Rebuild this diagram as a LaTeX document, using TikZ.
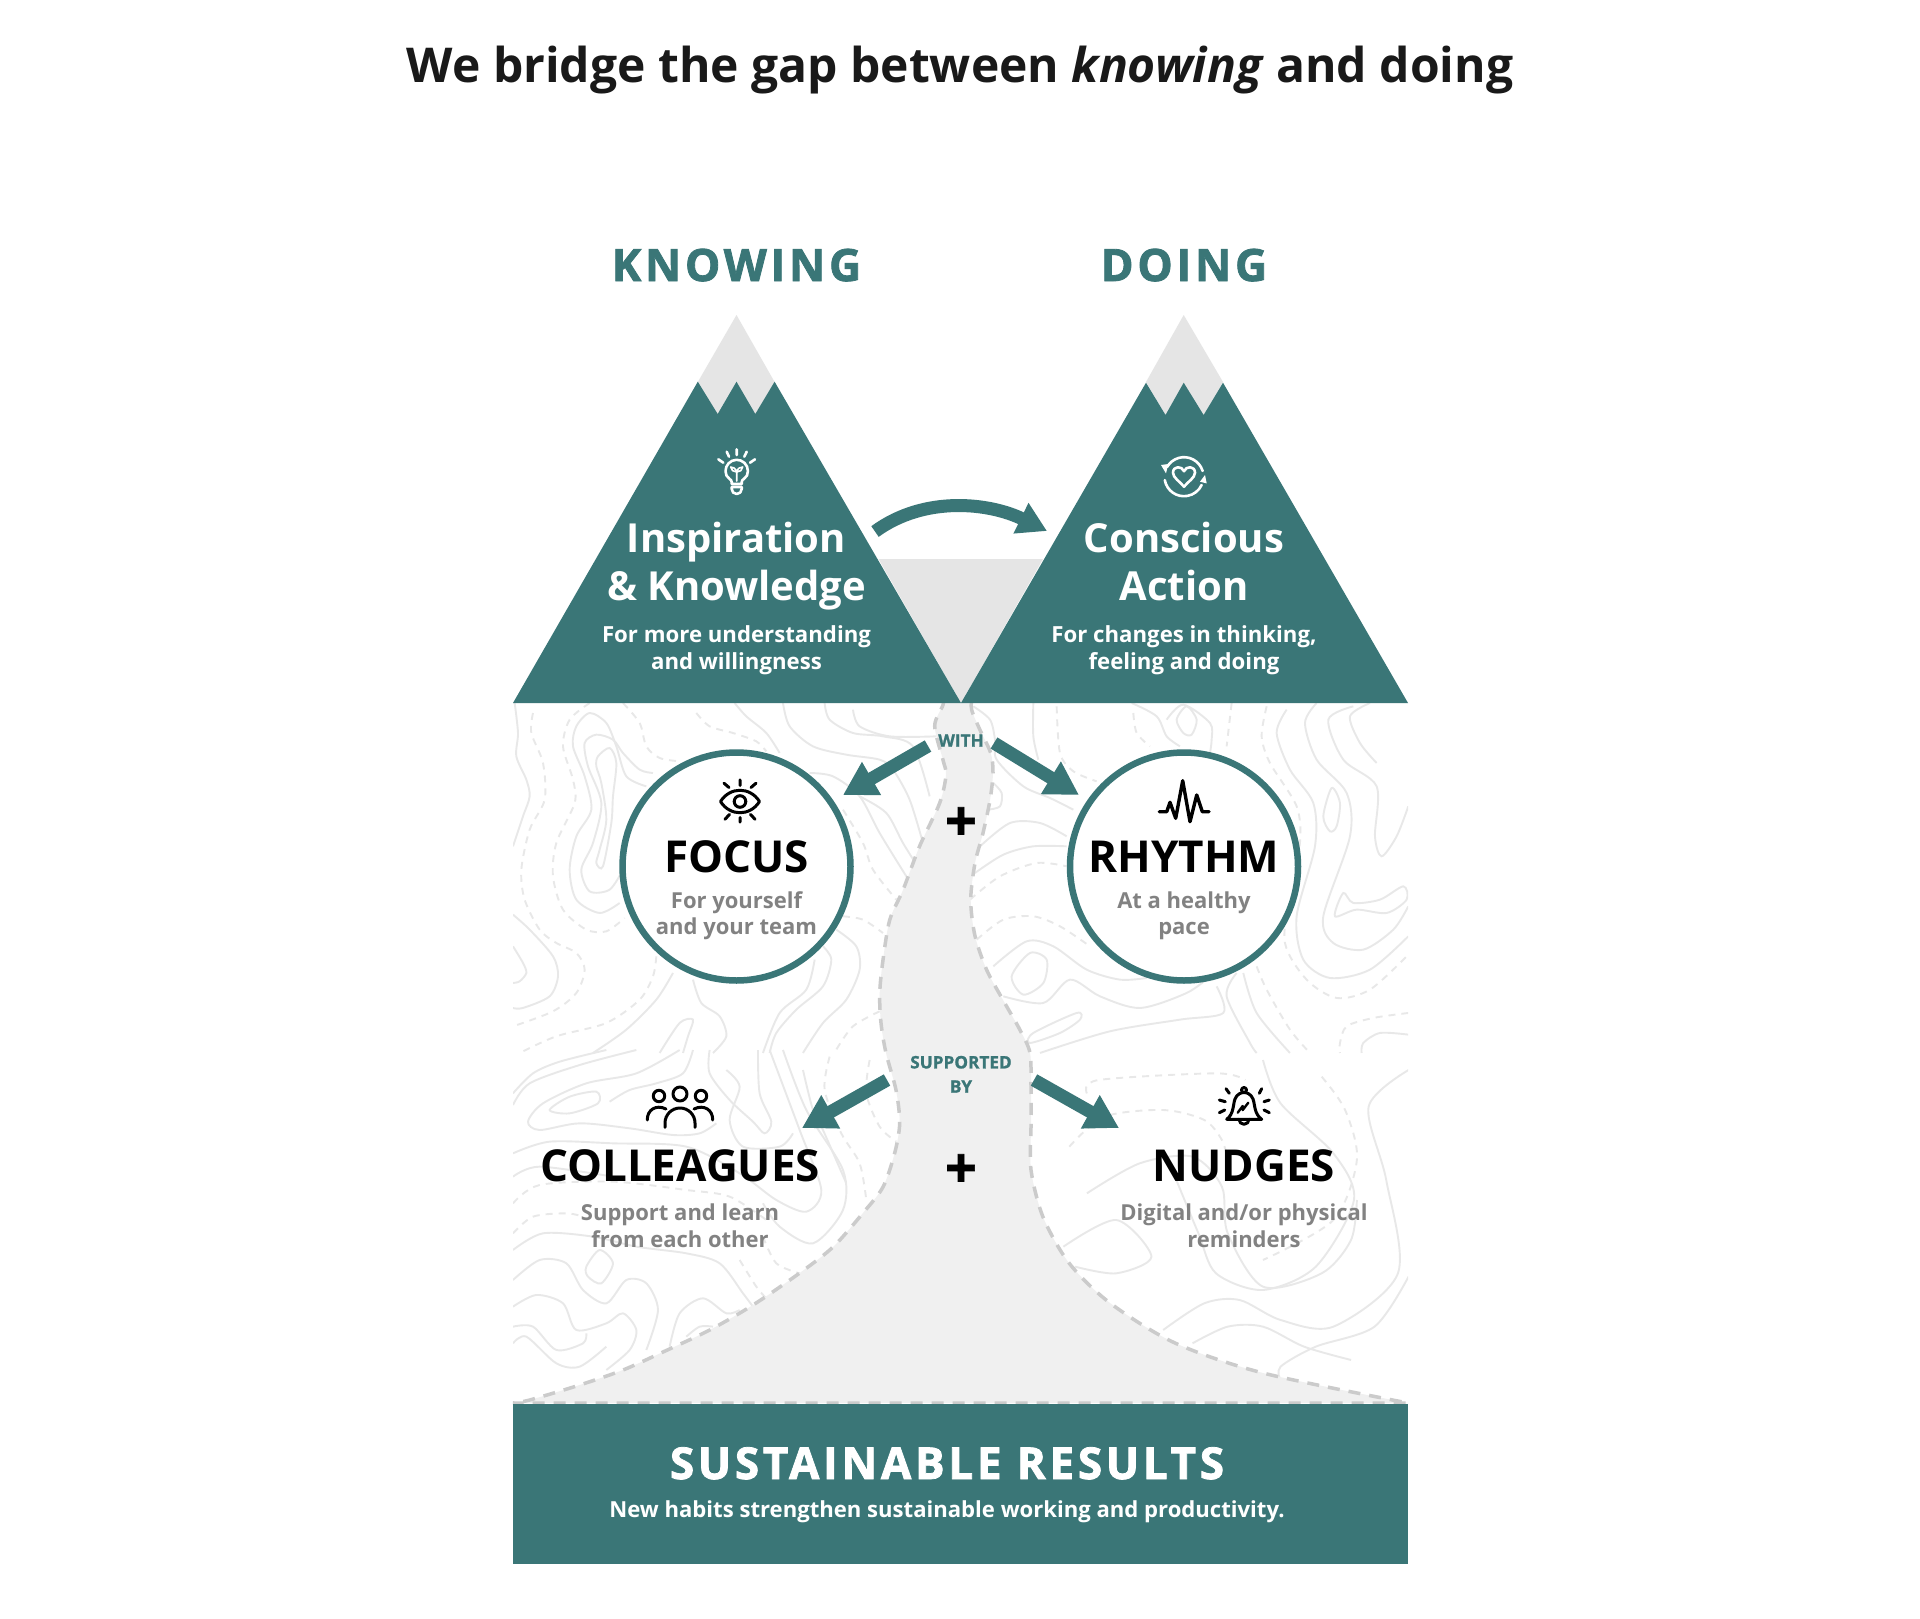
\documentclass[tikz,border=0pt]{standalone}
\usepackage{fontspec}
\setmainfont{Open Sans}
\newfontfamily\heavyfont[BoldFeatures={FakeBold=1.2}]{Open Sans}
\newfontfamily\spacedfont[LetterSpace=8.5,BoldFeatures={FakeBold=1.8}]{Open Sans}
\usetikzlibrary{arrows.meta}
\definecolor{pine}{HTML}{3A7677}
\definecolor{snow}{HTML}{E5E5E5}
\definecolor{trail}{HTML}{F0F0F0}
\definecolor{trailedge}{HTML}{CBCBCB}
\definecolor{isoline}{HTML}{E8E8E8}
\definecolor{subgrey}{HTML}{828282}
\begin{document}
\begin{tikzpicture}[x=1pt,y=-1pt,
  bigarrow/.style={-{Triangle[length=33pt,width=36pt]},line width=13pt,draw=pine},
  archarrow/.style={-{Triangle[length=29pt,width=32pt]},line width=13pt,draw=pine},
  mountain/.style={fill=pine},
  circlebox/.style={circle,draw=pine,fill=white,line width=6.5pt,minimum size=228pt,inner sep=0pt},
  contour/.style={draw=isoline,line width=1.9pt},
  dashcontour/.style={contour,dash pattern=on 7pt off 6pt},
  headline/.style={anchor=base,inner sep=0pt,text=black,font=\bfseries\fontsize{44}{50}\selectfont},
  peaktitle/.style={anchor=base,inner sep=0pt,align=center,text=white,font=\bfseries\fontsize{40}{48}\selectfont},
  peaksub/.style={anchor=base,inner sep=0pt,align=center,text=white,font=\bfseries\fontsize{22.2}{26.5}\selectfont},
  greysub/.style={anchor=base,inner sep=0pt,align=center,text=subgrey,font=\bfseries\fontsize{22}{26.5}\selectfont},
  tinylabel/.style={anchor=base,inner sep=0pt,align=center,text=pine,font=\heavyfont\bfseries\fontsize{17.2}{24.3}\selectfont},
  pluslabel/.style={anchor=center,inner sep=0pt,text=black,font=\heavyfont\bfseries\fontsize{56}{60}\selectfont},
  whiteicon/.style={draw=white,line width=2.6pt,line cap=round,line join=round},
  blackicon/.style={draw=black,line width=3pt,line cap=round,line join=round}]

\useasboundingbox (0,0) rectangle (1920,1619);
\fill [white] (0,0) rectangle (1920,1619);

\begin{scope}
\clip (513,703) rectangle (1408,1403);
\begin{scope}[shift={(513,703)},x=0.3333pt,y=-0.3333pt]
\draw [contour] plot[smooth] coordinates {(5,0) (15,90) (10,160) (40,230) (50,280) (30,340) (0,430)};
\draw [contour] plot[smooth] coordinates {(400,250) (340,220) (310,130) (280,60) (230,30) (190,70) (180,130) (215,220) (235,320) (190,400) (170,500) (190,590) (260,630) (320,600)};
\draw [contour] plot[smooth] coordinates {(420,210) (380,200) (330,150) (300,110) (250,95) (215,120) (225,190) (265,300) (240,420) (205,500) (230,565) (290,560) (330,500)};
\draw [contour] plot[smooth cycle] coordinates {(255,160) (290,135) (310,180) (300,280) (295,360) (270,490) (250,480) (260,440) (280,350) (265,240) (250,190)};
\draw [contour] plot[smooth] coordinates {(0,730) (30,780) (40,810) (20,835) (0,840)};
\draw [contour] plot[smooth] coordinates {(0,635) (50,680) (120,760) (135,820) (110,880) (30,915) (0,915)};
\draw [dashcontour] plot[smooth] coordinates {(60,30) (55,90) (90,180) (95,290) (50,380) (25,500) (35,590) (80,680) (130,720) (190,750) (215,800) (190,870) (120,925) (0,970)};
\draw [dashcontour] plot[smooth] coordinates {(230,0) (170,50) (150,130) (180,230) (185,300) (130,420) (120,520) (150,620) (220,680) (280,685) (335,645)};
\draw [dashcontour] plot[smooth] coordinates {(330,0) (380,60) (400,130) (440,165) (500,175)};
\draw [dashcontour] plot[smooth] coordinates {(550,30) (590,70) (660,90) (730,115) (760,145)};
\draw [contour] plot[smooth] coordinates {(665,0) (700,40) (760,90) (800,150)};
\draw [contour] plot[smooth] coordinates {(810,0) (830,70) (900,130) (1000,155) (1100,170) (1140,200) (1190,290) (1230,420)};
\draw [contour] plot[smooth] coordinates {(935,0) (950,50) (1020,90) (1110,100) (1200,130) (1250,280)};
\draw [contour] plot[smooth] coordinates {(1020,20) (1040,70) (1130,100) (1270,100)};
\draw [contour] plot[smooth] coordinates {(890,210) (960,220) (1040,280) (1100,390) (1180,520)};
\draw [contour] plot[smooth] coordinates {(1040,280) (1120,330) (1170,420) (1220,500)};
\draw [dashcontour] plot[smooth] coordinates {(990,320) (1050,420) (1080,500) (1150,590)};
\draw [dashcontour] plot[smooth] coordinates {(990,640) (1050,650) (1110,690)};
\draw [contour] plot[smooth] coordinates {(970,680) (1030,730) (1040,800) (1000,890) (930,960) (870,1050)};
\draw [contour] plot[smooth] coordinates {(930,730) (955,770) (930,850) (850,920) (790,990) (770,1050)};
\draw [contour] plot[smooth] coordinates {(905,770) (880,860) (800,930) (750,1050)};
\draw [contour] plot[smooth] coordinates {(540,830) (565,900) (620,940) (640,1000) (600,1050)};
\draw [dashcontour] plot[smooth] coordinates {(430,760) (420,820) (380,890) (280,960) (130,1000) (20,1050)};
\draw [contour] plot[smooth] coordinates {(480,810) (430,890) (340,980) (240,1050)};
\draw [contour] plot[smooth] coordinates {(440,1050) (500,960) (540,950) (525,1000) (510,1050)};
\draw [dashcontour] plot[smooth] coordinates {(1100,925) (1020,970) (970,1040)};
\end{scope}
\begin{scope}[shift={(960,703)},x=0.3333pt,y=-0.3333pt]
\draw [contour] plot[smooth] coordinates {(40,10) (90,50) (105,110) (110,170) (190,250) (270,285) (340,320)};
\draw [contour] plot[smooth] coordinates {(220,0) (220,100) (235,170)};
\draw [contour] plot[smooth] coordinates {(100,240) (125,270) (120,310) (85,320)};
\draw [contour] plot[smooth] coordinates {(60,430) (150,360) (240,360) (320,400)};
\draw [contour] plot[smooth] coordinates {(45,510) (130,455) (220,430) (320,430)};
\draw [dashcontour] plot[smooth] coordinates {(30,590) (120,520) (230,480) (320,490)};
\draw [dashcontour] plot[smooth] coordinates {(50,710) (130,650) (220,640) (300,670) (390,730)};
\draw [contour] plot[smooth] coordinates {(100,790) (200,715) (280,730) (380,800) (480,830) (560,825)};
\draw [contour] plot[smooth cycle] coordinates {(155,820) (210,750) (260,770) (250,840) (190,875)};
\draw [contour] plot[smooth] coordinates {(130,880) (250,900) (330,830) (420,880) (540,915) (680,870) (750,820)};
\draw [contour] plot[smooth cycle] coordinates {(220,990) (350,930) (360,950) (300,990) (210,1020)};
\draw [contour] plot[smooth] coordinates {(240,1050) (450,985) (660,950) (790,930) (770,850)};
\draw [contour] plot[smooth] coordinates {(830,810) (800,880) (870,1020) (890,1050)};
\draw [contour] plot[smooth] coordinates {(850,810) (890,930) (990,1050)};
\draw [dashcontour] plot[smooth] coordinates {(890,790) (920,860) (990,980) (1050,1050)};
\draw [dashcontour] plot[smooth] coordinates {(290,10) (300,150) (340,205) (410,235)};
\draw [dashcontour] plot[smooth] coordinates {(520,30) (530,90) (570,130)};
\draw [contour] plot[smooth] coordinates {(515,0) (590,40) (620,100) (660,130)};
\draw [contour] plot[smooth cycle] coordinates {(650,50) (680,10) (710,50) (695,95) (670,90)};
\draw [contour] plot[smooth] coordinates {(620,50) (670,5) (750,60) (755,110) (750,150)};
\draw [dashcontour] plot[smooth] coordinates {(815,0) (800,130)};
\draw [dashcontour] plot[smooth] coordinates {(920,10) (905,100) (930,180) (1010,310) (1020,420) (990,560) (975,720) (1040,830) (1130,885) (1230,860) (1340,760)};
\draw [contour] plot[smooth] coordinates {(980,20) (950,90) (990,200) (1060,300) (1065,430) (1010,640) (1030,770) (1110,825) (1230,800) (1345,700)};
\draw [contour] plot[smooth] coordinates {(1070,0) (1035,60) (1070,170) (1160,270) (1170,400) (1090,640) (1120,720) (1210,740) (1300,680) (1345,610)};
\draw [contour] plot[smooth cycle] coordinates {(1090,340) (1115,255) (1140,300) (1130,370) (1110,385)};
\draw [contour] plot[smooth] coordinates {(1180,10) (1105,50) (1150,170) (1250,250) (1245,400) (1265,460) (1310,400) (1345,310)};
\draw [contour] plot[smooth] coordinates {(1230,0) (1170,40) (1200,120) (1250,180)};
\draw [contour] plot[smooth cycle] coordinates {(1125,640) (1150,570) (1180,600) (1260,590) (1330,550) (1340,590) (1280,630) (1190,620)};
\draw [dashcontour] plot[smooth] coordinates {(1345,930) (1240,945) (1160,970) (1140,1020) (1140,1050)};
\draw [contour] plot[smooth] coordinates {(1345,995) (1260,990) (1210,1020) (1205,1050)};
\end{scope}
\begin{scope}[shift={(513,1050)},x=0.3333pt,y=-0.3333pt]
\draw [contour] plot[smooth] coordinates {(0,130) (60,70) (140,35) (280,0)};
\draw [contour] plot[smooth] coordinates {(0,165) (50,100) (200,45) (370,0)};
\draw [contour] plot[smooth] coordinates {(610,220) (560,250) (480,255) (350,235) (200,220) (80,240) (45,215) (90,160) (220,100) (370,70) (500,0)};
\draw [contour] plot[smooth cycle] coordinates {(110,180) (170,140) (250,125) (255,160) (170,190)};
\draw [contour] plot[smooth] coordinates {(290,155) (350,120) (430,100) (510,70) (540,0)};
\draw [contour] plot[smooth] coordinates {(590,0) (590,70) (650,150) (720,215) (755,250) (775,215) (740,130) (735,0)};
\draw [contour] plot[smooth] coordinates {(640,60) (680,110) (650,210) (690,290) (800,290) (840,250)};
\draw [contour] plot[smooth] coordinates {(0,310) (110,275) (300,280) (520,290) (680,370) (790,450) (880,485) (925,420) (860,240) (770,0)};
\draw [contour] plot[smooth] coordinates {(0,380) (80,350) (300,380)};
\draw [contour] plot[smooth] coordinates {(810,0) (880,180) (990,360) (990,480) (900,580) (800,530) (750,460)};
\draw [contour] plot[smooth] coordinates {(870,60) (900,180) (930,240) (1000,400)};
\draw [contour] plot[smooth] coordinates {(0,600) (90,550) (240,560) (370,590) (520,610) (620,640) (690,730) (720,770)};
\draw [contour] plot[smooth cycle] coordinates {(220,650) (260,600) (300,640) (265,700) (225,680)};
\draw [contour] plot[smooth] coordinates {(0,690) (80,630) (160,640) (210,720) (280,760) (340,690) (400,700) (435,780) (400,900)};
\draw [contour] plot[smooth] coordinates {(0,770) (70,735) (150,760) (190,840) (280,820) (330,790) (370,840) (350,900) (280,960)};
\draw [contour] plot[smooth] coordinates {(0,830) (60,830) (130,900) (210,880) (220,850)};
\draw [contour] plot[smooth] coordinates {(0,880) (40,860) (130,940) (200,950) (280,890)};
\draw [contour] plot[smooth] coordinates {(470,890) (500,790) (570,745) (640,790) (680,780)};
\draw [contour] plot[smooth] coordinates {(520,860) (560,830) (600,830)};
\draw [dashcontour] plot[smooth] coordinates {(0,460) (80,405) (300,395) (520,420) (650,440) (760,510)};
\draw [dashcontour] plot[smooth] coordinates {(0,550) (60,500) (160,490) (210,500)};
\draw [dashcontour] plot[smooth] coordinates {(680,630) (730,710) (760,745)};
\draw [dashcontour] plot[smooth] coordinates {(950,20) (935,120) (985,250) (1040,340) (1060,450)};
\draw [dashcontour] plot[smooth] coordinates {(750,560) (790,640) (860,670)};
\draw [dashcontour] plot[smooth] coordinates {(1070,30) (1060,130) (1100,230) (1150,275)};
\end{scope}
\begin{scope}[shift={(500,1060)},x=0.5869pt,y=-0.3333pt]
\draw [dashcontour] plot[smooth] coordinates {(1000,100) (1020,60) (1220,40) (1270,60)};
\draw [dashcontour] plot[smooth] coordinates {(970,260) (1030,170) (1130,150) (1200,180) (1230,240) (1240,300)};
\draw [dashcontour] plot[smooth] coordinates {(1400,50) (1440,150) (1460,300) (1420,480) (1300,600)};
\draw [contour] plot[smooth] coordinates {(960,560) (1050,480) (1110,590) (1050,640) (980,620)};
\draw [contour] plot[smooth] coordinates {(1000,400) (1090,310) (1180,290) (1230,380) (1240,520) (1300,680) (1400,640) (1450,540) (1460,420)};
\draw [contour] plot[smooth] coordinates {(1300,0) (1330,130) (1420,280) (1455,420) (1390,620) (1300,690) (1220,640) (1190,520) (1150,350)};
\draw [contour] plot[smooth] coordinates {(1548,30) (1480,140) (1510,360) (1530,640) (1420,800) (1330,780) (1260,720) (1200,730) (1130,810)};
\draw [contour] plot[smooth] coordinates {(1548,650) (1490,800) (1390,860) (1330,920) (1330,960)};
\draw [contour] plot[smooth] coordinates {(1180,850) (1240,800) (1300,800) (1370,860) (1450,900)};
\end{scope}
\end{scope}

\draw [fill=trail,draw=trailedge,line width=3.5pt,dash pattern=on 12pt off 9pt]
    plot[smooth] coordinates {(943,698) (943,705) (934.7,726) (943,760) (946,775) (939.7,803) (919.7,846) (903,890) (889.7,920) (883,960) (879.7,993) (881,1023) (886,1053) (896,1090) (899.7,1123) (894.7,1153) (883,1187) (863,1213) (833,1247) (799.7,1273) (753,1305) (709.7,1330) (663,1352) (623,1370) (579.7,1385) (529.7,1400) (513,1403)}
    -- plot[smooth] coordinates {(1408,1403) (1263,1373) (1175,1343) (1110,1303) (1069,1263) (1043,1217) (1031,1170) (1031,1127) (1031,1087) (1030,1053) (1020,1030) (1003,1000) (986.7,970) (975,936) (970.7,900) (975,863) (983,833) (990,800) (993,773) (990.7,753) (980,730) (971.7,710) (971.7,698)}
    -- cycle;

\fill [snow] (878.5,559) -- (1043,559) -- (961,703) -- cycle;
\fill [snow] (736.5,315) -- (697.8,382) -- (717.7,414) -- (755.3,414) -- (774.6,382) -- cycle;
\fill [snow] (1183.7,315) -- (1146,382) -- (1165.5,415) -- (1203.6,415) -- (1223,382) -- cycle;
\fill [mountain] (513,703) -- (697.8,381.7) -- (717.7,414) -- (736.5,381.7) -- (755.3,414) -- (774.6,381.7) -- (961,703) -- cycle;
\fill [mountain] (961,703) -- (1146,382.7) -- (1165.5,415) -- (1183.7,382.7) -- (1203.6,415) -- (1223,382.7) -- (1408,703) -- cycle;
\fill [pine] (513,1403.5) rectangle (1408,1564);

\node (focus) [circlebox] at (736.5,866.5) {};
\node (rhythm) [circlebox] at (1184,866.5) {};

\node (archstart) [coordinate] at (875,531.5) {};
\node (archend) [coordinate] at (1047,531) {};
\node (withstartl) [coordinate] at (928,746) {};
\node (withendl) [coordinate] at (843,795) {};
\node (withstartr) [coordinate] at (994,743) {};
\node (withendr) [coordinate] at (1079,795) {};
\node (supstartl) [coordinate] at (887,1080) {};
\node (supendl) [coordinate] at (802,1128) {};
\node (supstartr) [coordinate] at (1034,1080) {};
\node (supendr) [coordinate] at (1119,1128) {};
\draw [archarrow] (archstart) .. controls (925,495) and (990,503) .. (archend);
\path
    (withstartl) edge [bigarrow] (withendl)
    (withstartr) edge [bigarrow] (withendr)
    (supstartl) edge [bigarrow] (supendl)
    (supstartr) edge [bigarrow] (supendr)
;

\node (title) at (960,82) [anchor=base,inner sep=0pt,text=black!90,font=\bfseries\fontsize{48}{58}\selectfont] {We bridge the gap between \textit{knowing} and doing};
\node (knowing) at (736.5,281) [anchor=base,inner sep=0pt,text=pine,font=\spacedfont\bfseries\fontsize{44.5}{50}\selectfont] {KNOWING};
\node (doing) at (1184,281) [anchor=base,inner sep=0pt,text=pine,font=\spacedfont\bfseries\fontsize{44.5}{50}\selectfont] {DOING};
\node (inspiration) at (736.5,600.5) [peaktitle] {Inspiration\\\& Knowledge};
\node (inspirationsub) at (736.5,669) [peaksub] {For more understanding\\and willingness};
\node (conscious) at (1184,600.5) [peaktitle] {Conscious\\Action};
\node (conscioussub) at (1184,669) [peaksub] {For changes in thinking,\\feeling and doing};
\node (focustitle) at (736.5,872) [headline] {FOCUS};
\node (focussub) at (736.5,934.5) [greysub] {For yourself\\and your team};
\node (rhythmtitle) at (1184,872) [headline] {RHYTHM};
\node (rhythmsub) at (1184,934.5) [greysub] {At a healthy\\pace};
\node (colleagues) at (680,1181) [headline] {COLLEAGUES};
\node (colleaguessub) at (680,1247) [greysub] {Support and learn\\from each other};
\node (nudges) at (1244,1181) [headline] {NUDGES};
\node (nudgessub) at (1244,1247) [greysub] {Digital and/or physical\\reminders};
\node (with) at (961,746.7) [tinylabel] {WITH};
\node (supported) at (961,1092.7) [tinylabel] {SUPPORTED\\BY};
\node (plusa) at (961,824) [pluslabel] {+};
\node (plusb) at (961,1171) [pluslabel] {+};
\node (results) at (947,1479) [anchor=base,inner sep=0pt,text=white,font=\spacedfont\bfseries\fontsize{44}{50}\selectfont] {SUSTAINABLE RESULTS};
\node (resultssub) at (947,1517) [anchor=base,inner sep=0pt,text=white,font=\bfseries\fontsize{22.1}{27}\selectfont] {New habits strengthen sustainable working and productivity.};

\begin{scope}[shift={(736.7,471)},x=1pt,y=1pt]
\draw [whiteicon] (-5,-13) -- (-5,-11) .. controls (-5,-8) and (-9,-8) .. (-10.2,-4.55) arc[start angle=204,end angle=-24,radius=11.2] .. controls (9,-8) and (5,-8) .. (5,-11) -- (5,-13) -- cycle;
\draw [whiteicon] (-5,-16) -- (5,-16) (-5,-16) -- (-5,-18) arc[start angle=180,end angle=360,radius=5] -- (5,-16);
\draw [whiteicon,line width=1.6pt] (0,-10) -- (0,-1) .. controls (-1,3) and (-4,4) .. (-6,4) .. controls (-6,1) and (-3,-1) .. (0,-1) .. controls (1,3) and (4,4) .. (6,4) .. controls (6,1) and (3,-1) .. (0,-1);
\draw [whiteicon] (-10,19.3) -- (-7.7,14.3) (0,21.7) -- (0,16) (10,19.3) -- (7.6,14.3) (-18.4,11.7) -- (-13.4,8.3) (18.3,11.7) -- (13.3,8.3);
\end{scope}
\begin{scope}[shift={(1184,476.7)},x=1pt,y=1pt]
\draw [whiteicon] (17:19.5) arc[start angle=17,end angle=150,radius=19.5];
\draw [whiteicon] (190:19.5) arc[start angle=190,end angle=335,radius=19.5];
\fill [white] (-15.7,12.7) -- (-23,11.7) -- (-18,3.3) -- cycle;
\fill [white] (22.7,-6.7) -- (16,-5) -- (21,1.7) -- cycle;
\draw [whiteicon] (0,-10) .. controls (-4,-5) and (-11,-1) .. (-11,4) .. controls (-11,11) and (-2,11) .. (0,5.5) .. controls (2,11) and (11,11) .. (11,4) .. controls (11,-1) and (4,-5) .. (0,-10) -- cycle;
\end{scope}
\begin{scope}[shift={(740,801.5)},x=1pt,y=1pt]
\draw [blackicon] (-19.5,0) .. controls (-10,15) and (10,15) .. (19.5,0) .. controls (10,-15) and (-10,-15) .. (-19.5,0) -- cycle;
\draw [blackicon] (0,0) circle[radius=5.8];
\draw [blackicon] (0,21.7) -- (0,16) (0,-16) -- (0,-20.7) (-16,18.3) -- (-11,14) (16,18.3) -- (11,14) (-15,-17.7) -- (-10.5,-13) (15,-17.7) -- (10.5,-13);
\end{scope}
\draw [blackicon,line width=3.4pt] (1159.3,811.7) -- (1166.7,811.7) -- (1170,802.3) -- (1175.7,818.3) -- (1182.7,780.7) -- (1190,821.7) -- (1196.7,795) -- (1202.3,811.7) -- (1209,811.7);
\begin{scope}[shift={(680,1094)},x=1pt,y=1pt]
\draw [blackicon] (0,0) circle[radius=7];
\draw [blackicon] (-21,-2) circle[radius=5.7] (21,-2) circle[radius=5.7];
\draw [blackicon] (-15,-33.3) -- (-15,-29) arc[start angle=180,end angle=0,radius=15] -- (15,-33.3);
\draw [blackicon] (-32.7,-26) .. controls (-33,-16) and (-24,-10) .. (-14,-15);
\draw [blackicon] (32.7,-26) .. controls (33,-16) and (24,-10) .. (14,-15);
\end{scope}
\begin{scope}[shift={(1244,1104)},x=1pt,y=1pt]
\draw [blackicon] (0,14) circle[radius=2.5];
\draw [blackicon] (-17.3,-15.3) -- (17.7,-15.3) .. controls (10,-10) and (11,0) .. (9,5) .. controls (7,10) and (3,11.5) .. (0,11.5) .. controls (-3,11.5) and (-7,10) .. (-9,5) .. controls (-11,0) and (-10,-10) .. (-17.3,-15.3) -- cycle;
\draw [blackicon] (-5,-15.3) arc[start angle=180,end angle=360,radius=5];
\draw [blackicon,line width=2.4pt] (-6.3,-8.7) -- (-1.3,-2) -- (-1.3,-6) -- (4.3,1.3);
\draw [blackicon] (-18,15.3) -- (-14.7,10.7) (17.7,15.3) -- (15.3,10.7) (-24.7,4) -- (-18.7,2.3) (25.3,4) -- (20,2.3) (-24.7,-8.7) -- (-19.3,-6) (25.3,-8.7) -- (20,-6);
\end{scope}

\end{tikzpicture}
\end{document}
